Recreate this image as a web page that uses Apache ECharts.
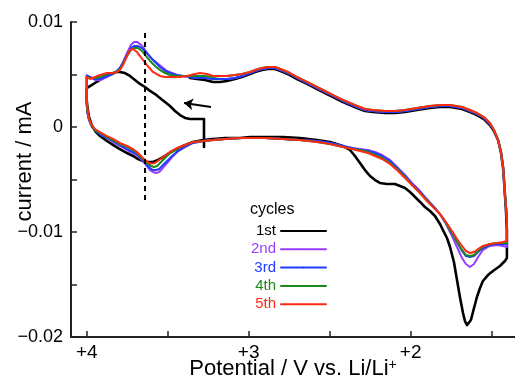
<!DOCTYPE html>
<html>
<head>
<meta charset="utf-8">
<script src="https://cdn.jsdelivr.net/npm/echarts@6/dist/echarts.min.js"></script>
<style>html,body{margin:0;padding:0;background:#fff;}#chart{width:515px;height:385px;}</style>
</head>
<body>
<div id="chart"></div>
<script>
// ---- data (potential in V vs Li/Li+, current in mA) ----
var cycleNames = ['1st', '2nd', '3rd', '4th', '5th'];
var cycleColors = ['#000000', '#9b3dff', '#1f3dff', '#1a8a1a', '#ff2a14'];
var xTickValues = [4, 3.5, 3, 2.5, 2, 1.5];
var xLabelValues = [4, 3, 2];
var yTickValues = [-0.02, -0.015, -0.01, -0.005, 0, 0.005, 0.01];
var yLabelValues = [-0.02, -0.01, 0, 0.01];

var cycle1 = [[3.276,-0.00190],[3.276,0.00076],[3.312,0.00076],[3.362,0.00076],[3.393,0.00086],[3.424,0.00114],[3.455,0.00152],[3.486,0.00200],[3.517,0.00238],[3.548,0.00276],[3.578,0.00314],[3.609,0.00343],[3.640,0.00381],[3.671,0.00410],[3.702,0.00448],[3.733,0.00486],[3.764,0.00514],[3.795,0.00524],[3.820,0.00524],[3.844,0.00505],[3.875,0.00486],[3.918,0.00448],[3.949,0.00419],[3.980,0.00390],[4.000,0.00371],[4.000,0.00257],[3.995,0.00181],[3.986,0.00095],[3.967,0.00010],[3.943,-0.00048],[3.918,-0.00086],[3.875,-0.00133],[3.838,-0.00171],[3.795,-0.00210],[3.751,-0.00248],[3.714,-0.00276],[3.683,-0.00305],[3.652,-0.00324],[3.622,-0.00333],[3.591,-0.00333],[3.560,-0.00314],[3.529,-0.00286],[3.498,-0.00257],[3.455,-0.00219],[3.406,-0.00181],[3.344,-0.00143],[3.282,-0.00124],[3.220,-0.00114],[3.146,-0.00105],[3.054,-0.00105],[2.992,-0.00095],[2.900,-0.00095],[2.788,-0.00095],[2.684,-0.00105],[2.578,-0.00124],[2.498,-0.00143],[2.418,-0.00181],[2.375,-0.00219],[2.344,-0.00276],[2.313,-0.00343],[2.282,-0.00410],[2.251,-0.00467],[2.220,-0.00505],[2.190,-0.00533],[2.146,-0.00543],[2.097,-0.00543],[2.066,-0.00562],[2.035,-0.00581],[2.004,-0.00619],[1.973,-0.00667],[1.942,-0.00714],[1.912,-0.00762],[1.881,-0.00800],[1.850,-0.00848],[1.819,-0.00924],[1.801,-0.00981],[1.776,-0.01057],[1.757,-0.01143],[1.733,-0.01286],[1.714,-0.01457],[1.696,-0.01619],[1.677,-0.01771],[1.665,-0.01848],[1.652,-0.01886],[1.640,-0.01886],[1.628,-0.01838],[1.609,-0.01724],[1.591,-0.01619],[1.572,-0.01533],[1.554,-0.01467],[1.523,-0.01410],[1.492,-0.01371],[1.449,-0.01324],[1.418,-0.01276],[1.406,-0.01248],[1.406,-0.00981],[1.412,-0.00790],[1.418,-0.00648],[1.424,-0.00505],[1.430,-0.00381],[1.443,-0.00238],[1.461,-0.00124],[1.486,-0.00038],[1.511,0.00019],[1.548,0.00076],[1.591,0.00114],[1.634,0.00143],[1.683,0.00171],[1.757,0.00190],[1.819,0.00190],[1.881,0.00181],[1.961,0.00162],[2.035,0.00143],[2.097,0.00133],[2.159,0.00133],[2.233,0.00143],[2.282,0.00152],[2.331,0.00181],[2.375,0.00210],[2.418,0.00238],[2.467,0.00276],[2.529,0.00324],[2.578,0.00362],[2.640,0.00410],[2.702,0.00457],[2.745,0.00495],[2.788,0.00524],[2.838,0.00552],[2.881,0.00552],[2.918,0.00543],[2.961,0.00524],[2.992,0.00505],[3.041,0.00476],[3.085,0.00457],[3.134,0.00438],[3.177,0.00429],[3.220,0.00429],[3.270,0.00448],[3.319,0.00457],[3.362,0.00467]];

var cycle2 = [[3.220,0.00457],[3.270,0.00467],[3.319,0.00467],[3.362,0.00476],[3.406,0.00486],[3.443,0.00495],[3.473,0.00514],[3.504,0.00533],[3.535,0.00571],[3.566,0.00610],[3.597,0.00648],[3.628,0.00705],[3.652,0.00762],[3.671,0.00790],[3.690,0.00810],[3.708,0.00810],[3.727,0.00781],[3.751,0.00705],[3.776,0.00619],[3.795,0.00562],[3.820,0.00524],[3.844,0.00505],[3.875,0.00476],[3.918,0.00448],[3.949,0.00448],[3.980,0.00476],[4.000,0.00495],[4.000,0.00352],[4.000,0.00210],[3.995,0.00133],[3.986,0.00067],[3.967,0],[3.943,-0.00038],[3.918,-0.00067],[3.875,-0.00105],[3.838,-0.00143],[3.795,-0.00181],[3.751,-0.00219],[3.714,-0.00248],[3.683,-0.00276],[3.659,-0.00314],[3.634,-0.00362],[3.609,-0.00410],[3.591,-0.00429],[3.572,-0.00438],[3.553,-0.00429],[3.529,-0.00390],[3.504,-0.00343],[3.473,-0.00286],[3.436,-0.00229],[3.393,-0.00190],[3.344,-0.00152],[3.282,-0.00133],[3.220,-0.00124],[3.146,-0.00114],[3.054,-0.00105],[2.992,-0.00105],[2.900,-0.00105],[2.788,-0.00114],[2.684,-0.00124],[2.578,-0.00133],[2.498,-0.00152],[2.418,-0.00181],[2.362,-0.00200],[2.313,-0.00210],[2.264,-0.00219],[2.220,-0.00238],[2.177,-0.00267],[2.128,-0.00314],[2.078,-0.00390],[2.035,-0.00457],[1.992,-0.00533],[1.942,-0.00610],[1.900,-0.00686],[1.856,-0.00762],[1.819,-0.00829],[1.782,-0.00924],[1.745,-0.01038],[1.714,-0.01143],[1.683,-0.01248],[1.659,-0.01305],[1.634,-0.01333],[1.609,-0.01305],[1.584,-0.01238],[1.554,-0.01171],[1.511,-0.01133],[1.467,-0.01124],[1.430,-0.01133],[1.406,-0.01143],[1.406,-0.00886],[1.412,-0.00743],[1.418,-0.00648],[1.424,-0.00505],[1.430,-0.00381],[1.443,-0.00238],[1.461,-0.00124],[1.486,-0.00029],[1.511,0.00029],[1.548,0.00086],[1.591,0.00124],[1.634,0.00152],[1.683,0.00181],[1.757,0.00200],[1.819,0.00200],[1.881,0.00190],[1.961,0.00171],[2.035,0.00152],[2.097,0.00143],[2.159,0.00143],[2.233,0.00152],[2.282,0.00162],[2.331,0.00190],[2.375,0.00219],[2.418,0.00248],[2.467,0.00286],[2.529,0.00333],[2.578,0.00371],[2.640,0.00419],[2.702,0.00467],[2.745,0.00505],[2.788,0.00533],[2.838,0.00562],[2.881,0.00562],[2.918,0.00552],[2.961,0.00533],[2.992,0.00514],[3.041,0.00486],[3.085,0.00467],[3.134,0.00457],[3.177,0.00457],[3.220,0.00457]];

var cycle3 = [[3.220,0.00457],[3.270,0.00467],[3.319,0.00467],[3.362,0.00476],[3.406,0.00486],[3.443,0.00495],[3.486,0.00514],[3.517,0.00533],[3.548,0.00571],[3.578,0.00619],[3.609,0.00667],[3.634,0.00714],[3.659,0.00752],[3.683,0.00771],[3.708,0.00771],[3.727,0.00752],[3.751,0.00686],[3.776,0.00610],[3.795,0.00562],[3.820,0.00524],[3.844,0.00505],[3.875,0.00486],[3.918,0.00457],[3.949,0.00457],[3.980,0.00476],[4.000,0.00486],[4.000,0.00352],[4.000,0.00210],[3.995,0.00133],[3.986,0.00067],[3.967,0],[3.943,-0.00038],[3.918,-0.00067],[3.875,-0.00105],[3.838,-0.00133],[3.795,-0.00171],[3.751,-0.00210],[3.714,-0.00238],[3.683,-0.00267],[3.659,-0.00305],[3.634,-0.00352],[3.609,-0.00390],[3.591,-0.00410],[3.572,-0.00410],[3.553,-0.00400],[3.529,-0.00362],[3.504,-0.00324],[3.473,-0.00276],[3.436,-0.00229],[3.393,-0.00190],[3.344,-0.00152],[3.282,-0.00133],[3.220,-0.00124],[3.146,-0.00114],[3.054,-0.00105],[2.992,-0.00105],[2.900,-0.00105],[2.788,-0.00114],[2.684,-0.00124],[2.578,-0.00133],[2.498,-0.00152],[2.418,-0.00181],[2.362,-0.00200],[2.313,-0.00219],[2.264,-0.00229],[2.220,-0.00248],[2.177,-0.00276],[2.128,-0.00324],[2.078,-0.00400],[2.035,-0.00467],[1.992,-0.00543],[1.942,-0.00619],[1.900,-0.00695],[1.856,-0.00762],[1.819,-0.00829],[1.782,-0.00914],[1.745,-0.01010],[1.714,-0.01095],[1.683,-0.01181],[1.659,-0.01229],[1.634,-0.01238],[1.609,-0.01229],[1.584,-0.01190],[1.554,-0.01152],[1.511,-0.01124],[1.467,-0.01114],[1.430,-0.01114],[1.406,-0.01114],[1.406,-0.00886],[1.412,-0.00743],[1.418,-0.00648],[1.424,-0.00505],[1.430,-0.00381],[1.443,-0.00238],[1.461,-0.00124],[1.486,-0.00029],[1.511,0.00029],[1.548,0.00086],[1.591,0.00124],[1.634,0.00152],[1.683,0.00181],[1.757,0.00200],[1.819,0.00200],[1.881,0.00190],[1.961,0.00171],[2.035,0.00152],[2.097,0.00143],[2.159,0.00143],[2.233,0.00152],[2.282,0.00162],[2.331,0.00190],[2.375,0.00219],[2.418,0.00248],[2.467,0.00286],[2.529,0.00333],[2.578,0.00371],[2.640,0.00419],[2.702,0.00467],[2.745,0.00505],[2.788,0.00533],[2.838,0.00562],[2.881,0.00562],[2.918,0.00552],[2.961,0.00533],[2.992,0.00514],[3.041,0.00486],[3.085,0.00467],[3.134,0.00457],[3.177,0.00457],[3.220,0.00457]];

var cycle4 = [[3.220,0.00476],[3.270,0.00486],[3.319,0.00486],[3.362,0.00486],[3.406,0.00486],[3.443,0.00486],[3.486,0.00495],[3.517,0.00514],[3.548,0.00543],[3.578,0.00581],[3.609,0.00629],[3.634,0.00676],[3.659,0.00724],[3.683,0.00752],[3.708,0.00752],[3.727,0.00733],[3.751,0.00676],[3.776,0.00600],[3.795,0.00552],[3.820,0.00524],[3.844,0.00514],[3.875,0.00505],[3.918,0.00476],[3.949,0.00467],[3.980,0.00467],[4.000,0.00476],[4.000,0.00371],[4.000,0.00229],[3.995,0.00143],[3.986,0.00076],[3.973,0.00019],[3.949,-0.00029],[3.918,-0.00057],[3.875,-0.00095],[3.838,-0.00124],[3.795,-0.00162],[3.751,-0.00190],[3.714,-0.00219],[3.690,-0.00248],[3.665,-0.00286],[3.640,-0.00324],[3.622,-0.00352],[3.603,-0.00371],[3.585,-0.00381],[3.566,-0.00371],[3.541,-0.00333],[3.517,-0.00295],[3.486,-0.00248],[3.443,-0.00210],[3.393,-0.00171],[3.344,-0.00143],[3.282,-0.00133],[3.220,-0.00124],[3.146,-0.00114],[3.054,-0.00105],[2.992,-0.00105],[2.900,-0.00105],[2.788,-0.00114],[2.684,-0.00124],[2.578,-0.00143],[2.498,-0.00162],[2.418,-0.00190],[2.362,-0.00210],[2.313,-0.00219],[2.264,-0.00238],[2.220,-0.00267],[2.177,-0.00295],[2.128,-0.00343],[2.078,-0.00410],[2.035,-0.00476],[1.992,-0.00552],[1.942,-0.00629],[1.900,-0.00695],[1.856,-0.00771],[1.819,-0.00829],[1.782,-0.00914],[1.745,-0.01010],[1.714,-0.01095],[1.683,-0.01171],[1.659,-0.01219],[1.634,-0.01229],[1.609,-0.01219],[1.584,-0.01181],[1.554,-0.01143],[1.511,-0.01114],[1.467,-0.01105],[1.430,-0.01105],[1.406,-0.01105],[1.406,-0.00886],[1.412,-0.00743],[1.418,-0.00648],[1.424,-0.00505],[1.430,-0.00381],[1.443,-0.00238],[1.461,-0.00124],[1.486,-0.00029],[1.511,0.00038],[1.548,0.00095],[1.591,0.00133],[1.634,0.00162],[1.683,0.00190],[1.757,0.00210],[1.819,0.00210],[1.881,0.00200],[1.961,0.00181],[2.035,0.00162],[2.097,0.00152],[2.159,0.00152],[2.233,0.00162],[2.282,0.00171],[2.331,0.00200],[2.375,0.00229],[2.418,0.00257],[2.467,0.00295],[2.529,0.00343],[2.578,0.00381],[2.640,0.00429],[2.702,0.00476],[2.745,0.00514],[2.788,0.00543],[2.838,0.00571],[2.881,0.00571],[2.918,0.00562],[2.961,0.00543],[2.992,0.00524],[3.041,0.00505],[3.085,0.00495],[3.134,0.00486],[3.177,0.00486],[3.220,0.00476]];

var cycle5 = [[3.220,0.00486],[3.257,0.00505],[3.301,0.00514],[3.332,0.00505],[3.381,0.00486],[3.424,0.00476],[3.473,0.00476],[3.517,0.00476],[3.548,0.00486],[3.591,0.00524],[3.628,0.00590],[3.652,0.00638],[3.671,0.00676],[3.690,0.00714],[3.714,0.00743],[3.733,0.00733],[3.751,0.00676],[3.776,0.00590],[3.795,0.00543],[3.813,0.00524],[3.838,0.00514],[3.875,0.00514],[3.918,0.00495],[3.949,0.00476],[3.980,0.00457],[4.000,0.00476],[4.000,0.00400],[4.000,0.00257],[3.995,0.00162],[3.986,0.00086],[3.973,0.00029],[3.949,-0.00019],[3.918,-0.00048],[3.875,-0.00086],[3.838,-0.00114],[3.795,-0.00152],[3.751,-0.00181],[3.714,-0.00210],[3.690,-0.00238],[3.665,-0.00276],[3.640,-0.00314],[3.615,-0.00343],[3.597,-0.00348],[3.578,-0.00343],[3.553,-0.00314],[3.529,-0.00286],[3.486,-0.00238],[3.443,-0.00200],[3.393,-0.00171],[3.344,-0.00143],[3.282,-0.00133],[3.220,-0.00124],[3.146,-0.00114],[3.054,-0.00105],[2.992,-0.00105],[2.900,-0.00105],[2.788,-0.00114],[2.684,-0.00124],[2.578,-0.00143],[2.498,-0.00162],[2.418,-0.00190],[2.362,-0.00210],[2.313,-0.00229],[2.264,-0.00248],[2.220,-0.00276],[2.177,-0.00305],[2.128,-0.00352],[2.078,-0.00419],[2.035,-0.00486],[1.992,-0.00552],[1.942,-0.00629],[1.900,-0.00705],[1.856,-0.00771],[1.819,-0.00829],[1.782,-0.00905],[1.745,-0.00990],[1.714,-0.01067],[1.683,-0.01133],[1.659,-0.01181],[1.634,-0.01200],[1.609,-0.01190],[1.584,-0.01162],[1.554,-0.01133],[1.511,-0.01114],[1.467,-0.01105],[1.430,-0.01095],[1.406,-0.01086],[1.406,-0.00886],[1.412,-0.00743],[1.418,-0.00648],[1.424,-0.00505],[1.430,-0.00381],[1.443,-0.00238],[1.461,-0.00124],[1.486,-0.00029],[1.511,0.00038],[1.548,0.00095],[1.591,0.00133],[1.634,0.00162],[1.683,0.00190],[1.757,0.00210],[1.819,0.00210],[1.881,0.00200],[1.961,0.00181],[2.035,0.00162],[2.097,0.00152],[2.159,0.00152],[2.233,0.00162],[2.282,0.00171],[2.331,0.00200],[2.375,0.00229],[2.418,0.00257],[2.467,0.00295],[2.529,0.00343],[2.578,0.00381],[2.640,0.00429],[2.702,0.00476],[2.745,0.00514],[2.788,0.00543],[2.838,0.00571],[2.881,0.00571],[2.918,0.00562],[2.961,0.00543],[2.992,0.00524],[3.041,0.00505],[3.085,0.00495],[3.134,0.00486],[3.177,0.00486],[3.220,0.00486]];

var guideLine = [[3.64, 0.00895], [3.64, -0.00724]];
var arrowLine = [[3.233, 0.00190], [3.399, 0.00229]];

// ---- chart ----
var FONT = "'Liberation Sans', Arial, Helvetica, sans-serif";
var chart = echarts.init(document.getElementById('chart'), null, {renderer: 'canvas'});
var cycles = [cycle1, cycle2, cycle3, cycle4, cycle5];
var series = cycles.map(function (d, i) {
  return {
    type: 'line', name: cycleNames[i], data: d, symbol: 'circle', symbolSize: 0,
    showSymbol: false, smooth: false, animation: false, silent: true,
    z: 3,
    lineStyle: {color: cycleColors[i], width: i === 0 ? 2.6 : 2, join: 'round', cap: 'round'},
    itemStyle: {color: cycleColors[i]}
  };
});
series.push({
  type: 'line', name: 'guide', data: guideLine, symbol: 'none', silent: true, animation: false, z: 5,
  lineStyle: {color: '#000', width: 2, type: [5, 4]}
});
series.push({
  type: 'lines', coordinateSystem: 'cartesian2d', silent: true, animation: false, z: 5,
  symbol: ['none', 'arrow'], symbolSize: 9,
  lineStyle: {color: '#000', width: 2, opacity: 1},
  data: [{coords: arrowLine}]
});

function yFmt(v) {
  var r = Math.round(v * 100) / 100;
  if (Math.abs(r) < 1e-9) return '0';
  return (r < 0 ? '\u2212' : '') + Math.abs(r).toFixed(2);
}

chart.setOption({
  animation: false,
  backgroundColor: '#fff',
  grid: {left: 71, right: 0, top: 22, bottom: 48, outerBoundsMode: 'none'},
  xAxis: {
    type: 'value', min: 1.356, max: 4.097, inverse: true,
    name: '{a|Potential / V vs. Li/Li}{s|+}', nameLocation: 'middle', nameGap: 21, nameMoveOverlap: false,
    nameTextStyle: {
      rich: {
        a: {fontFamily: FONT, fontSize: 22, color: '#000', verticalAlign: 'bottom'},
        s: {fontFamily: FONT, fontSize: 14, color: '#000', verticalAlign: 'top'}
      }
    },
    axisLine: {show: true, onZero: false, lineStyle: {color: '#222', width: 2}},
    axisTick: {show: true, inside: true, length: 6, customValues: xTickValues, lineStyle: {color: '#222', width: 1.5}},
    axisLabel: {customValues: xLabelValues, margin: 6, fontFamily: FONT, fontSize: 19, color: '#000',
      formatter: function (v) { return '+' + Math.round(v); }},
    splitLine: {show: false}
  },
  yAxis: {
    type: 'value', min: -0.02, max: 0.01,
    name: 'current / mA', nameLocation: 'middle', nameGap: 35, nameMoveOverlap: false,
    nameTextStyle: {fontFamily: FONT, fontSize: 22, color: '#000', padding: [0, 0, 0, 36]},
    axisLine: {show: true, onZero: false, lineStyle: {color: '#222', width: 2}},
    axisTick: {show: true, inside: true, length: 6, customValues: yTickValues, lineStyle: {color: '#222', width: 1.5}},
    axisLabel: {customValues: yLabelValues, margin: 8, fontFamily: FONT, fontSize: 18, color: '#000', formatter: yFmt},
    splitLine: {show: false}
  },
  legend: {
    orient: 'vertical', right: 183, top: 218, align: 'right',
    itemWidth: 45, itemHeight: 2, itemGap: 2.3, selectedMode: false,
    textStyle: {fontFamily: FONT, fontSize: 15, lineHeight: 16},
    data: cycleNames.map(function (n, i) { return {name: n, textStyle: {color: cycleColors[i]}}; })
  },
  graphic: [{
    type: 'text', left: 250, top: 202, silent: true,
    style: {text: 'cycles', font: '16px ' + FONT, fill: '#000'}
  }],
  series: series
});
</script>
</body>
</html>
